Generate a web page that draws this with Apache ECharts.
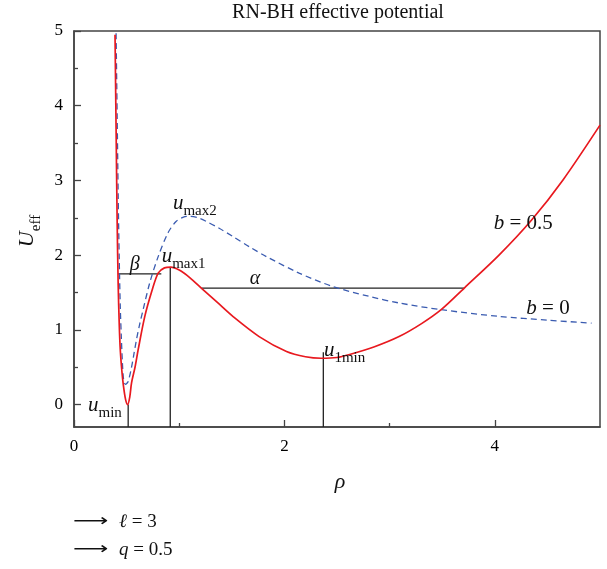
<!DOCTYPE html>
<html>
<head>
<meta charset="utf-8">
<script src="https://cdn.jsdelivr.net/npm/echarts@6/dist/echarts.min.js"></script>
<style>
  html, body { margin: 0; padding: 0; background: #fff; }
  #chart { width: 607px; height: 569px; }
</style>
</head>
<body>
<div id="chart"></div>
<script>
// Effective potential of the RN-BH, b = 0.5 (solid) and b = 0 (dashed)
const rhoB05 = [0.39, 0.40, 0.41, 0.42, 0.43, 0.44, 0.455, 0.47, 0.49, 0.51, 0.53, 0.547, 0.58, 0.61, 0.673, 0.74, 0.80, 0.86, 0.92, 1.0, 1.1, 1.21, 1.36, 1.51, 1.76, 2.02, 2.2, 2.35, 2.5, 2.62, 2.85, 3.09, 3.3, 3.49, 3.71, 4.04, 4.35, 4.65, 5.0];
const uB05   = [4.95, 3.70, 2.47, 1.60, 1.08, 0.73, 0.45, 0.25, 0.07, 0.0, 0.10, 0.29, 0.50, 0.735, 1.18, 1.52, 1.76, 1.83, 1.84, 1.80, 1.70, 1.56, 1.37, 1.18, 0.91, 0.71, 0.64, 0.62, 0.63, 0.67, 0.77, 0.91, 1.08, 1.27, 1.56, 2.0, 2.47, 3.01, 3.74];

const rhoB0 = [0.40, 0.41, 0.42, 0.43, 0.44, 0.45, 0.46, 0.47, 0.48, 0.49, 0.50, 0.515, 0.54, 0.565, 0.594, 0.625, 0.657, 0.72, 0.80, 0.894, 0.97, 1.04, 1.10, 1.18, 1.26, 1.38, 1.51, 1.67, 1.83, 2.14, 2.46, 2.8, 3.09, 3.49, 4.04, 4.5, 4.92];
const uB0   = [4.97, 3.90, 2.80, 1.95, 1.30, 0.90, 0.56, 0.35, 0.29, 0.27, 0.28, 0.31, 0.45, 0.64, 0.87, 1.08, 1.27, 1.63, 1.98, 2.30, 2.45, 2.51, 2.52, 2.50, 2.45, 2.36, 2.25, 2.11, 1.98, 1.76, 1.58, 1.45, 1.36, 1.27, 1.18, 1.13, 1.09];

// Axis ticks
const xTickLabels = [0, 2, 4];
const xMinorTicks = [1, 3];
const yTickLabels = [0, 1, 2, 3, 4, 5];
const yMinorTicks = [0.5, 1.5, 2.5, 3.5, 4.5];

// Guide lines: [rho1, U1, rho2, U2]
const guideLines = [
  [0.515, -0.3, 0.515, 0.0],   // u_min
  [0.915, -0.3, 0.915, 1.84],  // u_max1
  [2.37, -0.3, 2.37, 0.70],    // u_1min
  [0.42, 1.75, 0.83, 1.75],    // beta
  [1.21, 1.56, 3.71, 1.56]     // alpha
];

// Annotation anchors: [rho, U] and text
const noteAnchors = [
  [0.133, -0.04], [0.833, 1.95], [0.94, 2.66], [2.376, 0.69],
  [0.53, 1.87], [1.67, 1.68], [3.99, 2.43], [4.30, 1.28]
];
const noteTexts = [
  '{u|u}{s|min}', '{u|u}{s|max1}', '{u|u}{s|max2}', '{u|u}{s|1min}',
  '{g|β}', '{g|α}', '{i|b}{n| = 0.5}', '{i|b}{n| = 0}'
];

const SERIF = '"Liberation Serif", "DejaVu Serif", serif';
const INK = '#111';
const AXIS = '#444';

const zip = (a, b) => a.map((v, i) => [v, b[i]]);

const plain = { color: INK, textBorderWidth: 0, textShadowBlur: 0 };
const richStyles = {
  u: { ...plain, fontFamily: SERIF, fontSize: 21, fontStyle: 'italic', verticalAlign: 'bottom', padding: [0, 0, 5, 0] },
  s: { ...plain, fontFamily: SERIF, fontSize: 15, verticalAlign: 'bottom' },
  g: { ...plain, fontFamily: SERIF, fontSize: 20, fontStyle: 'italic' },
  i: { ...plain, fontFamily: SERIF, fontSize: 21, fontStyle: 'italic' },
  n: { ...plain, fontFamily: SERIF, fontSize: 21 }
};

const series = [
  {
    type: 'line', name: 'b = 0', data: zip(rhoB0, uB0), showSymbol: false, smooth: 0.3,
    lineStyle: { color: '#3a5bb0', width: 1.3, type: [6, 4] }, z: 3, silent: true
  },
  {
    type: 'line', name: 'b = 0.5', data: zip(rhoB05, uB05), showSymbol: false, smooth: 0.3,
    lineStyle: { color: '#e8191f', width: 1.7 }, z: 4, silent: true
  }
];
guideLines.forEach(g => series.push({
  type: 'line', data: [[g[0], g[1]], [g[2], g[3]]], showSymbol: false,
  lineStyle: { color: '#222', width: 1.3 }, z: 2, silent: true
}));
series.push({
  type: 'scatter', symbolSize: 0, silent: true, z: 6,
  itemStyle: { color: INK, opacity: 1 },
  data: noteAnchors.map((p, i) => ({
    value: p,
    label: {
      show: true, formatter: noteTexts[i], position: [0, 0], align: 'left', verticalAlign: 'middle',
      color: INK, opacity: 1, textBorderWidth: 0, textBorderColor: 'transparent', rich: richStyles
    }
  }))
});

const tickLabelStyle = { fontFamily: SERIF, fontSize: 17, color: '#000' };

const option = {
  animation: false,
  grid: { left: 74, right: 7, top: 31, bottom: 142, show: true, borderColor: AXIS, borderWidth: 1.5, backgroundColor: 'transparent' },
  xAxis: [
    {
      type: 'value', min: 0, max: 5, splitLine: { show: false },
      axisLine: { show: true, onZero: false, lineStyle: { color: AXIS, width: 1.5 } },
      axisTick: { show: true, inside: true, length: 7, customValues: xTickLabels, lineStyle: { color: AXIS, width: 1.3 } },
      axisLabel: { customValues: xTickLabels, margin: 11, ...tickLabelStyle }
    },
    {
      type: 'value', min: 0, max: 5, position: 'bottom', splitLine: { show: false },
      axisLine: { show: false, onZero: false },
      axisTick: { show: true, inside: true, length: 4, customValues: xMinorTicks, lineStyle: { color: AXIS, width: 1.3 } },
      axisLabel: { show: false }
    }
  ],
  yAxis: [
    {
      type: 'value', min: -0.3, max: 5, splitLine: { show: false },
      axisLine: { show: true, onZero: false, lineStyle: { color: AXIS, width: 1.5 } },
      axisTick: { show: true, inside: true, length: 7, customValues: yTickLabels, lineStyle: { color: AXIS, width: 1.3 } },
      axisLabel: { customValues: yTickLabels, margin: 11, ...tickLabelStyle }
    },
    {
      type: 'value', min: -0.3, max: 5, position: 'left', splitLine: { show: false },
      axisLine: { show: false, onZero: false },
      axisTick: { show: true, inside: true, length: 4, customValues: yMinorTicks, lineStyle: { color: AXIS, width: 1.3 } },
      axisLabel: { show: false }
    }
  ],
  series: series,
  graphic: [
    {
      type: 'text', x: 338, y: 13,
      style: { text: 'RN-BH effective potential', fontFamily: SERIF, fontSize: 20, fill: INK, align: 'center', verticalAlign: 'middle' }
    },
    {
      type: 'text', x: 30, y: 231, rotation: Math.PI / 2,
      style: {
        text: '{U|U}{e|eff}', align: 'center', verticalAlign: 'middle',
        rich: {
          U: { fontFamily: SERIF, fontSize: 22, fontStyle: 'italic', fill: INK, verticalAlign: 'bottom', padding: [0, 0, 5, 0] },
          e: { fontFamily: SERIF, fontSize: 15, fill: INK, verticalAlign: 'bottom' }
        }
      }
    },
    {
      type: 'text', x: 340, y: 482,
      style: { text: 'ρ', fontFamily: SERIF, fontSize: 22, fontStyle: 'italic', fill: INK, align: 'center', verticalAlign: 'middle' }
    },
    // parameter notes below the plot
    {
      type: 'text', x: 73, y: 522, scaleX: 1.45,
      style: { text: '⟶', fontFamily: '"DejaVu Sans", sans-serif', fontSize: 17, fill: INK, verticalAlign: 'middle' }
    },
    {
      type: 'text', x: 119, y: 522,
      style: {
        text: '{i|ℓ}{n| = 3}', verticalAlign: 'middle',
        rich: {
          i: { fontFamily: SERIF, fontSize: 19, fontStyle: 'italic', fill: INK },
          n: { fontFamily: SERIF, fontSize: 19, fill: INK }
        }
      }
    },
    {
      type: 'text', x: 73, y: 550, scaleX: 1.45,
      style: { text: '⟶', fontFamily: '"DejaVu Sans", sans-serif', fontSize: 17, fill: INK, verticalAlign: 'middle' }
    },
    {
      type: 'text', x: 119, y: 550,
      style: {
        text: '{i|q}{n| = 0.5}', verticalAlign: 'middle',
        rich: {
          i: { fontFamily: SERIF, fontSize: 19, fontStyle: 'italic', fill: INK },
          n: { fontFamily: SERIF, fontSize: 19, fill: INK }
        }
      }
    }
  ]
};

const chart = echarts.init(document.getElementById('chart'), null, { renderer: 'canvas' });
chart.setOption(option);
</script>
</body>
</html>
